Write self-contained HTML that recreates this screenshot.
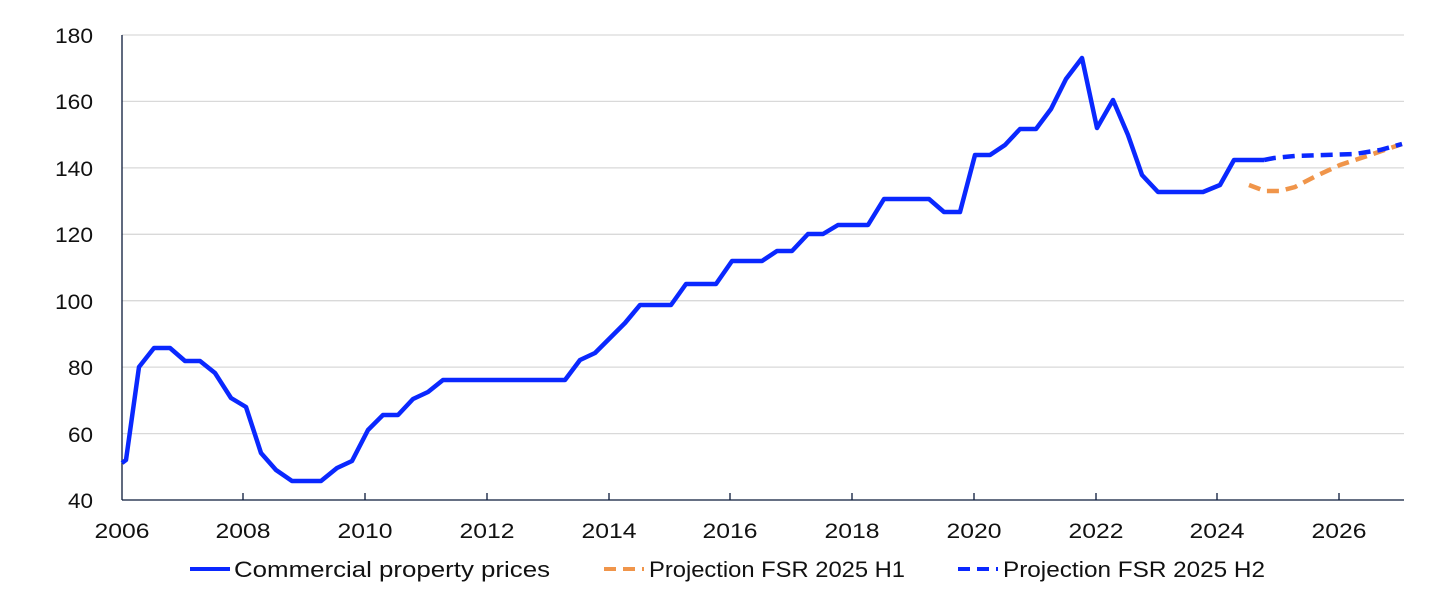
<!DOCTYPE html>
<html><head><meta charset="utf-8"><style>
body{margin:0;background:#fff;}
svg{display:block;font-family:"Liberation Sans",sans-serif;}
</style></head><body>
<svg width="1445" height="600" viewBox="0 0 1445 600">
<g stroke="#d9d9d9" stroke-width="1.3">
<line x1="122" x2="1404" y1="35" y2="35"/><line x1="122" x2="1404" y1="101.4" y2="101.4"/>
<line x1="122" x2="1404" y1="167.9" y2="167.9"/><line x1="122" x2="1404" y1="234.3" y2="234.3"/>
<line x1="122" x2="1404" y1="300.7" y2="300.7"/><line x1="122" x2="1404" y1="367.1" y2="367.1"/>
<line x1="122" x2="1404" y1="433.6" y2="433.6"/>
</g>
<g stroke="#0a1a3a" stroke-width="1.3">
<line x1="122" x2="122" y1="35" y2="500"/><line x1="122" x2="1404" y1="500" y2="500"/>
<line x1="243" x2="243" y1="493" y2="500"/><line x1="365" x2="365" y1="493" y2="500"/>
<line x1="487" x2="487" y1="493" y2="500"/><line x1="609" x2="609" y1="493" y2="500"/>
<line x1="730" x2="730" y1="493" y2="500"/><line x1="852" x2="852" y1="493" y2="500"/>
<line x1="974" x2="974" y1="493" y2="500"/><line x1="1096" x2="1096" y1="493" y2="500"/>
<line x1="1217" x2="1217" y1="493" y2="500"/><line x1="1339" x2="1339" y1="493" y2="500"/>
</g>
<g font-size="21" fill="#111" text-anchor="end">
<text x="93" y="43" textLength="38" lengthAdjust="spacingAndGlyphs">180</text><text x="93" y="109" textLength="38" lengthAdjust="spacingAndGlyphs">160</text><text x="93" y="176" textLength="38" lengthAdjust="spacingAndGlyphs">140</text>
<text x="93" y="242" textLength="38" lengthAdjust="spacingAndGlyphs">120</text><text x="93" y="309" textLength="38" lengthAdjust="spacingAndGlyphs">100</text><text x="93" y="375" textLength="25" lengthAdjust="spacingAndGlyphs">80</text>
<text x="93" y="442" textLength="25" lengthAdjust="spacingAndGlyphs">60</text><text x="93" y="508" textLength="25" lengthAdjust="spacingAndGlyphs">40</text>
</g>
<g font-size="21" fill="#111" text-anchor="middle">
<text x="122" y="538" textLength="55" lengthAdjust="spacingAndGlyphs">2006</text><text x="243" y="538" textLength="55" lengthAdjust="spacingAndGlyphs">2008</text><text x="365" y="538" textLength="55" lengthAdjust="spacingAndGlyphs">2010</text>
<text x="487" y="538" textLength="55" lengthAdjust="spacingAndGlyphs">2012</text><text x="609" y="538" textLength="55" lengthAdjust="spacingAndGlyphs">2014</text><text x="730" y="538" textLength="55" lengthAdjust="spacingAndGlyphs">2016</text>
<text x="852" y="538" textLength="55" lengthAdjust="spacingAndGlyphs">2018</text><text x="974" y="538" textLength="55" lengthAdjust="spacingAndGlyphs">2020</text><text x="1096" y="538" textLength="55" lengthAdjust="spacingAndGlyphs">2022</text>
<text x="1217" y="538" textLength="55" lengthAdjust="spacingAndGlyphs">2024</text><text x="1339" y="538" textLength="55" lengthAdjust="spacingAndGlyphs">2026</text>
</g>
<polyline fill="none" stroke="#f0954a" stroke-width="4.5" stroke-dasharray="12,7" points="1249,185 1265,191 1280,191 1295,187 1316,176 1340,165 1370,155 1402,144"/>
<polyline fill="none" stroke="#0a28ff" stroke-width="4.5" stroke-dasharray="12,7" points="1264,160 1274,158 1295,156 1325,155 1355,154 1380,150 1402,144"/>
<polyline fill="none" stroke="#0a28ff" stroke-width="4.5" stroke-linejoin="round" points="122,463 126,460 139,367 154,348 170,348 185,361 200,361 215,373 231,398 246,407 261,453 276,470 292,481 321,481 337,468 352,461 368,430 383,415 398,415 413,399 428,392 443,380 565,380 580,360 595,353 609,339 625,323 640,305 671,305 686,284 716,284 732,261 762,261 777,251 792,251 808,234 823,234 838,225 868,225 884,199 929,199 944,212 960,212 975,155 990,155 1005,145 1020,129 1036,129 1051,109 1066,79 1082,58 1097,128 1113,100 1128,135 1142,175 1158,192 1203,192 1220,185 1234,160 1264,160"/>
<line x1="190" x2="230" y1="569" y2="569" stroke="#0a28ff" stroke-width="4"/>
<line x1="604" x2="644" y1="569" y2="569" stroke="#f0954a" stroke-width="4" stroke-dasharray="12,7"/>
<line x1="958" x2="998" y1="569" y2="569" stroke="#0a28ff" stroke-width="4" stroke-dasharray="12,7"/>
<g font-size="22" fill="#111">
<text x="234" y="577" textLength="316" lengthAdjust="spacingAndGlyphs">Commercial property prices</text>
<text x="649" y="577" textLength="256" lengthAdjust="spacingAndGlyphs">Projection FSR 2025 H1</text>
<text x="1003" y="577" textLength="262" lengthAdjust="spacingAndGlyphs">Projection FSR 2025 H2</text>
</g>
</svg>
</body></html>
